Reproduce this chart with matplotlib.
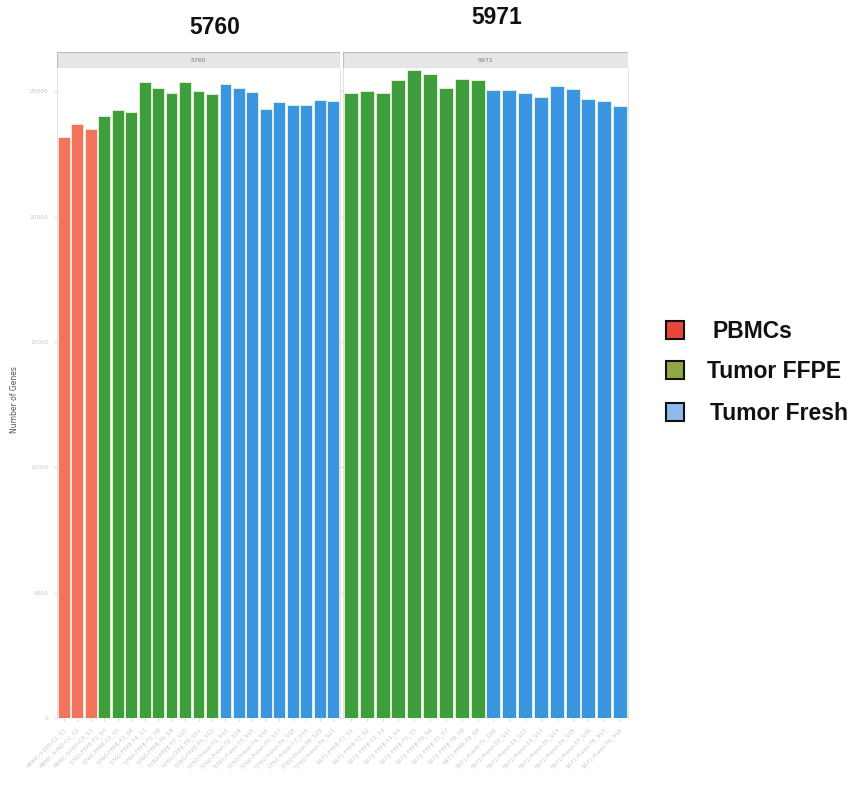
import matplotlib
matplotlib.use("Agg")
import matplotlib.pyplot as plt
from matplotlib.patches import Rectangle

# ---------------- data ----------------
groups = ["PBMCs", "Tumor FFPE", "Tumor Fresh"]
group_colors = {"PBMCs": "#F4735F", "Tumor FFPE": "#3E9E3C", "Tumor Fresh": "#3A96E0"}
legend_colors = ["#E8473C", "#8FA844", "#8DB9EC"]

panel_names = ["5760", "5971"]

p5760_samples = ["PBMC-5760-C1_S1", "PBMC-5760-C2_S2", "PBMC-5760-C3_S3",
                 "5760-FFPE-T1_S4", "5760-FFPE-T2_S5", "5760-FFPE-T3_S6",
                 "5760-FFPE-T4_S7", "5760-FFPE-T5_S8", "5760-FFPE-T6_S9",
                 "5760-FFPE-T7_S10", "5760-FFPE-T8_S11", "5760-FFPE-T9_S12",
                 "5760-Fresh-T1_S13", "5760-Fresh-T2_S14", "5760-Fresh-T3_S15",
                 "5760-Fresh-T4_S16", "5760-Fresh-T5_S17", "5760-Fresh-T6_S18",
                 "5760-Fresh-T7_S19", "5760-Fresh-T8_S20", "5760-Fresh-T9_S21"]
p5760_groups = ["PBMCs"] * 3 + ["Tumor FFPE"] * 9 + ["Tumor Fresh"] * 9
p5760_genes = [23180, 23680, 23480,
               24000, 24250, 24160, 25390, 25120, 24950, 25360, 25000, 24890,
               25280, 25150, 24990, 24280, 24570, 24470, 24470, 24660, 24610]

p5971_samples = ["5971-FFPE-T1_S1", "5971-FFPE-T2_S2", "5971-FFPE-T3_S3",
                 "5971-FFPE-T4_S4", "5971-FFPE-T5_S5", "5971-FFPE-T6_S6",
                 "5971-FFPE-T7_S7", "5971-FFPE-T8_S8", "5971-FFPE-T9_S9",
                 "5971-Fresh-T1_S10", "5971-Fresh-T2_S11", "5971-Fresh-T3_S12",
                 "5971-Fresh-T4_S13", "5971-Fresh-T5_S14", "5971-Fresh-T6_S15",
                 "5971-Fresh-T7_S16", "5971-Fresh-T8_S17", "5971-Fresh-T9_S18"]
p5971_groups = ["Tumor FFPE"] * 9 + ["Tumor Fresh"] * 9
p5971_genes = [24930, 25010, 24950, 25470, 25860, 25700, 25150, 25500, 25440,
               25070, 25070, 24950, 24790, 25210, 25110, 24700, 24600, 24410]

y_ticks = [0, 5000, 10000, 15000, 20000, 25000]

# ---------------- figure ----------------
W, H = 856, 792
fig = plt.figure(figsize=(W / 100, H / 100), dpi=100)
fig.patch.set_facecolor("white")

def fx(px):
    return px / W

def fy(py):
    return 1 - py / H

panels = [
    (panel_names[0], p5760_samples, p5760_groups, p5760_genes, 57, 340, 215, 28),
    (panel_names[1], p5971_samples, p5971_groups, p5971_genes, 343, 628, 497, 18),
]

top_px, bot_px = 68, 718
strip_top = 52

for i, (name, samples, grps, genes, x0, x1, tx, ty) in enumerate(panels):
    ax = fig.add_axes([fx(x0), fy(bot_px), fx(x1 - x0), (bot_px - top_px) / H])
    xs = list(range(len(samples)))
    ax.bar(xs, genes, width=0.88, color=[group_colors[g] for g in grps],
           edgecolor="#EEF3DA", linewidth=0.6)
    ax.set_xlim(-0.5, len(samples) - 0.5)
    ax.set_ylim(0, 25930)
    ax.set_xticks(xs)
    ax.set_xticklabels(samples, rotation=45, ha="right", rotation_mode="anchor",
                       fontsize=4.2, color="#C4C4C4")
    ax.set_yticks(y_ticks)
    if i == 0:
        ax.set_yticklabels([str(t) for t in y_ticks], fontsize=4.2, color="#BDBDBD")
    else:
        ax.set_yticklabels([])
        ax.tick_params(axis="y", length=0)
    ax.tick_params(axis="both", colors="#C8C8C8", length=2, width=0.5, pad=4)
    for s in ax.spines.values():
        s.set_color("#D8D8D8")
        s.set_linewidth(0.5)
    ax.spines["top"].set_visible(False)
    ax.spines["bottom"].set_visible(False)
    ax.set_facecolor("white")

    # strip
    sax = fig.add_axes([fx(x0), fy(top_px), fx(x1 - x0), (top_px - strip_top) / H])
    sax.set_xlim(0, 1)
    sax.set_ylim(0, 1)
    sax.add_patch(Rectangle((0, 0), 1, 1, facecolor="#E6E6E6", edgecolor="#BDBDBD",
                            linewidth=0.8, transform=sax.transAxes))
    sax.text(0.5, 0.5, name, ha="center", va="center", fontsize=4.5, color="#777777")
    sax.axis("off")

    # big title
    fig.text(fx(tx), fy(ty), name, ha="center", va="center", fontsize=16.5,
             fontweight="bold", family="Liberation Sans", color="#111111")

# y axis title
fig.text(fx(15), fy(400), "Number of Genes", rotation=90, ha="center", va="center",
         fontsize=5.5, color="#555555")

# legend
leg_items = [(groups[0], legend_colors[0], 330, 712),
             (groups[1], legend_colors[1], 370, 707),
             (groups[2], legend_colors[2], 412, 710)]
for label, col, yc, txx in leg_items:
    sq = 18
    fig.patches.append(Rectangle((fx(666), fy(yc + sq / 2)), sq / W, sq / H,
                                 facecolor=col, edgecolor="#111111", linewidth=1.5,
                                 transform=fig.transFigure, figure=fig))
    fig.text(fx(txx), fy(yc + 1), label, ha="left", va="center", fontsize=16.5,
             fontweight="bold", family="Liberation Sans", color="#111111")

fig.savefig("out.png", dpi=100, facecolor="white")
